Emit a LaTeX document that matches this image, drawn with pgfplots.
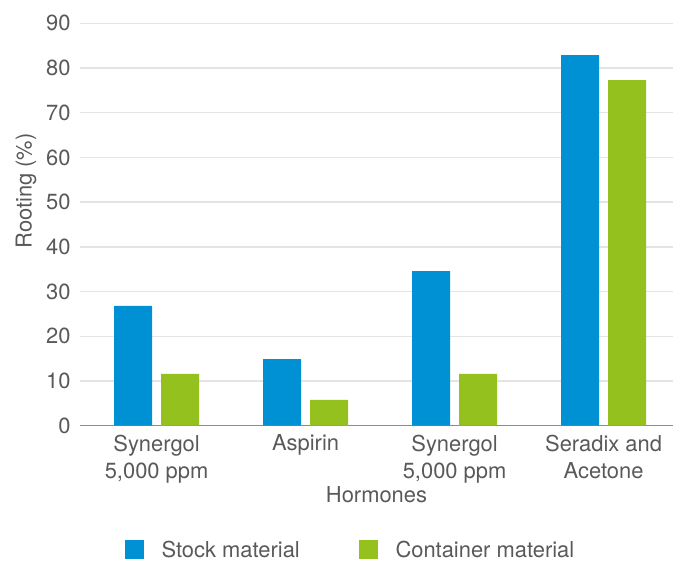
\documentclass[border=0pt]{standalone}
\usepackage{fontspec}
\setmainfont{TeX Gyre Heros}
\usepackage{pgfplots}
\pgfplotsset{compat=1.18}
\definecolor{stockblue}{RGB}{0,145,213}
\definecolor{contgreen}{RGB}{149,193,31}
\definecolor{txt}{RGB}{89,89,89}
\definecolor{gridc}{RGB}{228,228,228}
\definecolor{axisgray}{RGB}{140,140,140}
\begin{document}
\begin{tikzpicture}
\useasboundingbox (0,0) rectangle (673bp,561bp);
\begin{axis}[
  at={(80bp,135.3bp)}, anchor=south west,
  scale only axis, width=593bp, height=402.4bp,
  xmin=-0.514, xmax=3.466, ymin=0, ymax=90,
  ybar, bar width=38bp,
  ytick={0,10,...,90},
  xtick={0,1,2,3},
  xticklabels={{Synergol\\5,000 ppm},{Aspirin},{Synergol\\5,000 ppm},{Seradix and\\Acetone}},
  major tick length=0pt,
  /pgf/number format/assume math mode=true,
  font=\fontsize{22}{27.3}\selectfont,
  every tick label/.append style={text=txt},
  xticklabel style={align=center, anchor=north, inner sep=0pt, yshift=-9bp},
  yticklabel style={anchor=east, inner sep=0pt, xshift=-9.3bp},
  axis x line*=bottom, axis y line*=left,
  y axis line style={draw=none},
  x axis line style={draw=axisgray, line width=1.5bp},
  ymajorgrids, major grid style={draw=gridc, line width=1.5bp},
  xlabel={Hormones},
  xlabel style={at={(axis description cs:0.5,-0.1913)}, anchor=base, text=txt},
  ylabel={Rooting (\%)},
  ylabel style={at={(axis description cs:-0.0814,0.5833)}, anchor=base, text=txt},
  legend columns=2,
  legend style={at={(axis description cs:0.4545,-0.3077)}, anchor=center,
    draw=none, fill=none, inner sep=0pt, text=txt,
    font=\fontsize{22}{27.3}\selectfont,
    nodes={inner sep=0pt, text depth=0pt},
    /tikz/every odd column/.append style={column sep=17.7bp},
    /tikz/every even column/.append style={column sep=59bp}},
  legend image code/.code={\draw[#1,draw=none] (0bp,-9.5bp) rectangle (19bp,9.5bp);},
]
\addplot[fill=stockblue, draw=none, bar shift=-23.5bp] coordinates {(0,26.8) (1,14.9) (2,34.6) (3,82.9)};
\addlegendentry{Stock material}
\addplot[fill=contgreen, draw=none, bar shift=23.5bp] coordinates {(0,11.6) (1,5.8) (2,11.6) (3,77.3)};
\addlegendentry{Container material}
\end{axis}
\end{tikzpicture}
\end{document}
